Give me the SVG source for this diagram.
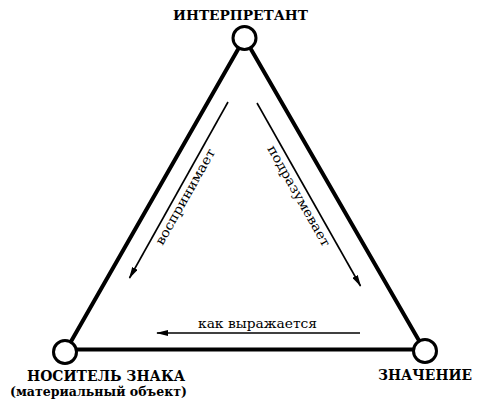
<svg xmlns="http://www.w3.org/2000/svg" width="482" height="403" viewBox="0 0 482 403">
<style>
.edge{stroke:#000;stroke-width:4;fill:none;stroke-linecap:round}
.arr{stroke:#000;stroke-width:1.6;fill:none}
.node{fill:#fff;stroke:#000;stroke-width:3}
.lbl{font-family:"DejaVu Serif","Liberation Serif",serif;font-weight:bold;fill:#000}
.cap{font-family:"DejaVu Serif","Liberation Serif",serif;font-size:13px;fill:#000}
</style>
<defs>
<marker id="ah" viewBox="0 0 12 6" refX="11" refY="3" markerWidth="12" markerHeight="6" markerUnits="userSpaceOnUse" orient="auto">
<path d="M0,0 L12,3 L0,6 Z" fill="#000"/>
</marker>
</defs>
<g id="connectors">
<line class="edge" x1="244.5" y1="38" x2="65" y2="352"/>
<line class="edge" x1="244.5" y1="38" x2="425" y2="351"/>
<line class="edge" x1="65" y1="349.5" x2="425" y2="349.5"/>
<line class="arr" x1="228" y1="102" x2="129.5" y2="278" marker-end="url(#ah)"/>
<line class="arr" x1="257" y1="103" x2="360.5" y2="286" marker-end="url(#ah)"/>
<line class="arr" x1="360" y1="333" x2="157" y2="333" marker-end="url(#ah)"/>
<text class="cap" transform="translate(189,199) rotate(-60.6)" text-anchor="middle" textLength="108" lengthAdjust="spacingAndGlyphs">воспринимает</text>
<text class="cap" transform="translate(295,198) rotate(60.5)" text-anchor="middle" textLength="114" lengthAdjust="spacingAndGlyphs">подразумевает</text>
<text class="cap" x="257.5" y="327.5" text-anchor="middle" textLength="119" lengthAdjust="spacingAndGlyphs">как выражается</text>
</g>
<g id="interpretant">
<circle class="node" cx="244.5" cy="38" r="11.5"/>
<text class="lbl" x="240.5" y="19.5" font-size="13" text-anchor="middle" textLength="135" lengthAdjust="spacingAndGlyphs">ИНТЕРПРЕТАНТ</text>
</g>
<g id="nositel">
<circle class="node" cx="65" cy="352" r="11.5"/>
<text class="lbl" x="106" y="380.5" font-size="14.5" text-anchor="middle" textLength="158" lengthAdjust="spacingAndGlyphs">НОСИТЕЛЬ ЗНАКА</text>
<text class="lbl" x="98.5" y="396" font-size="12.5" text-anchor="middle" textLength="177" lengthAdjust="spacingAndGlyphs">(материальный объект)</text>
</g>
<g id="znachenie">
<circle class="node" cx="425" cy="351" r="11.5"/>
<text class="lbl" x="425" y="380" font-size="14.5" text-anchor="middle" textLength="94" lengthAdjust="spacingAndGlyphs">ЗНАЧЕНИЕ</text>
</g>
</svg>
